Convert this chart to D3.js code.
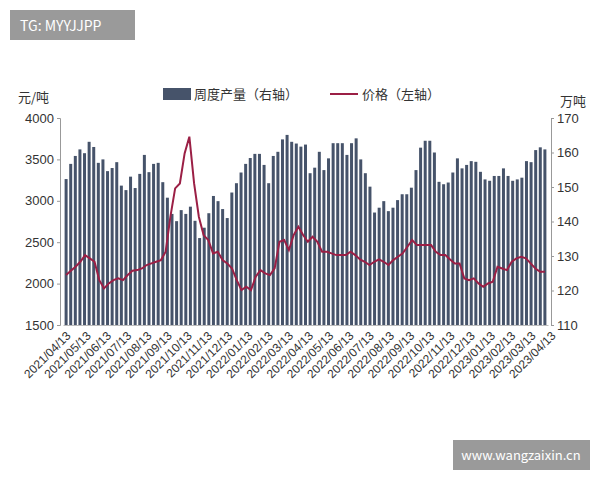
<!DOCTYPE html>
<html><head><meta charset="utf-8">
<script src="https://cdn.jsdelivr.net/npm/d3@7"></script>
<style>body{margin:0;background:#fff;font-family:"Noto Sans CJK SC","Noto Sans",sans-serif}</style>
</head><body><div id="chart"></div>
<script>
// weekly output (万吨, right axis)
const output = [152.3,156.7,159,160.9,159.8,163.1,161.6,157,158,154.6,155.5,157.2,150.4,149.1,153,149.7,153.8,159.3,154.3,156.7,157,151.4,146.9,142.2,140.1,143.3,142.2,144.3,140.2,135.2,138.2,142.4,147.4,145.9,143.6,141,148.4,151.1,154.2,156.7,158.4,159.6,159.6,156.4,151.1,159,160.2,163.8,165.1,163.1,162.6,161.7,162.3,
154,155.6,160.2,154.9,158.3,162.7,162.7,162.7,159.3,162.7,164.1,158,154,150.1,142.6,144,145.9,143,144,146.2,147.9,147.9,149.8,154.9,161.4,163.4,163.4,160,151.5,150.8,151.3,154.2,158.3,155.4,156.4,157.5,157.3,154.4,152.2,151.8,153.2,153.2,155.4,153.2,151.8,152.2,152.7,157.5,157.2,160.7,161.5,160.9];
// price (元/吨, left axis)
const price = [2103,2155,2204,2264,2344,2304,2264,2042,1942,2002,2042,2063,2042,2103,2155,2163,2183,2224,2244,2264,2284,2385,2808,3150,3210,3573,3774,3210,2808,2586,2526,2365,2385,2284,2244,2183,2042,1922,1962,1922,2083,2163,2123,2103,2183,2505,2526,2405,2586,2687,2586,2505,
2566,2506,2385,2385,2365,2344,2344,2344,2385,2344,2292,2264,2224,2264,2292,2264,2224,2284,2324,2365,2445,2526,2465,2465,2465,2465,2385,2344,2344,2292,2244,2244,2063,2042,2063,2002,1962,2002,2022,2204,2183,2163,2264,2304,2324,2304,2244,2183,2143,2143];
const monthLabels = ["2021/04/13","2021/05/13","2021/06/13","2021/07/13","2021/08/13","2021/09/13","2021/10/13","2021/11/13","2021/12/13","2022/01/13","2022/02/13","2022/03/13","2022/04/13","2022/05/13","2022/06/13","2022/07/13","2022/08/13","2022/09/13","2022/10/13","2022/11/13","2022/12/13","2023/01/13","2023/02/13","2023/03/13","2023/04/13"];
const leftTicks = [1500,2000,2500,3000,3500,4000];
const rightTicks = [110,120,130,140,150,160,170];

const W = 600, H = 480;
const m = {left: 63, right: 52, top: 118, bottom: 155};
const svg = d3.select("#chart").append("svg").attr("width", W).attr("height", H);

const x = d3.scaleBand().domain(d3.range(output.length)).range([m.left, W - m.right]).padding(0.35);
const yL = d3.scaleLinear().domain([1500, 4000]).range([H - m.bottom, m.top]);
const yR = d3.scaleLinear().domain([110, 170]).range([H - m.bottom, m.top]);
const xLine = d3.scalePoint().domain(d3.range(price.length))
    .range([x(0) + x.bandwidth() / 2, x(output.length - 1) + x.bandwidth() / 2]);

svg.append("g").selectAll("rect").data(output).enter().append("rect")
    .attr("x", (d, i) => x(i)).attr("width", x.bandwidth())
    .attr("y", d => yR(d)).attr("height", d => yR(110) - yR(d))
    .attr("fill", "#46536a");

svg.append("path").datum(price)
    .attr("fill", "none").attr("stroke", "#9b1f45").attr("stroke-width", 2)
    .attr("d", d3.line().x((d, i) => xLine(i)).y(d => yL(d)));

const axL = svg.append("g").attr("transform", `translate(${m.left - 3},0)`)
    .call(d3.axisLeft(yL).tickValues(leftTicks).tickSize(3).tickFormat(d3.format("d")));
const axR = svg.append("g").attr("transform", `translate(${W - m.right + 3},0)`)
    .call(d3.axisRight(yR).tickValues(rightTicks).tickSize(3));
[axL, axR].forEach(a => {
    a.selectAll("path,line").attr("stroke", "#999");
    a.selectAll("text").attr("font-size", 13).attr("fill", "#333");
});

const monthScale = d3.scalePoint().domain(monthLabels).range([m.left, W - m.right]);
const axB = svg.append("g").attr("transform", `translate(0,${H - m.bottom})`)
    .call(d3.axisBottom(monthScale).tickSize(0));
axB.select("path").attr("stroke", "#bbb");
axB.selectAll("text").attr("font-size", 12).attr("fill", "#333")
    .attr("text-anchor", "end").attr("dx", "-0.2em").attr("dy", "0.9em")
    .attr("transform", "rotate(-45)");

svg.append("text").attr("x", 18).attr("y", 102).attr("font-size", 13).attr("fill", "#333").text("元/吨");
svg.append("text").attr("x", 560).attr("y", 106).attr("font-size", 13).attr("fill", "#333").text("万吨");

// legend
svg.append("rect").attr("x", 163).attr("y", 88).attr("width", 28).attr("height", 12).attr("fill", "#46536a");
svg.append("text").attr("x", 194).attr("y", 99).attr("font-size", 13).attr("fill", "#333").text("周度产量（右轴）");
svg.append("line").attr("x1", 330).attr("x2", 358).attr("y1", 94).attr("y2", 94).attr("stroke", "#9b1f45").attr("stroke-width", 2);
svg.append("text").attr("x", 362).attr("y", 99).attr("font-size", 13).attr("fill", "#333").text("价格（左轴）");

// watermarks
svg.append("rect").attr("x", 10).attr("y", 10).attr("width", 125).attr("height", 30).attr("fill", "#9a9a9a");
svg.append("text").attr("x", 20).attr("y", 31).attr("font-size", 14).attr("fill", "#fff").text("TG: MYYJJPP");
svg.append("rect").attr("x", 453).attr("y", 440).attr("width", 137).attr("height", 30).attr("fill", "#9a9a9a");
svg.append("text").attr("x", 521).attr("y", 460).attr("text-anchor", "middle").attr("font-size", 13).attr("fill", "#fff").text("www.wangzaixin.cn");
</script></body></html>
